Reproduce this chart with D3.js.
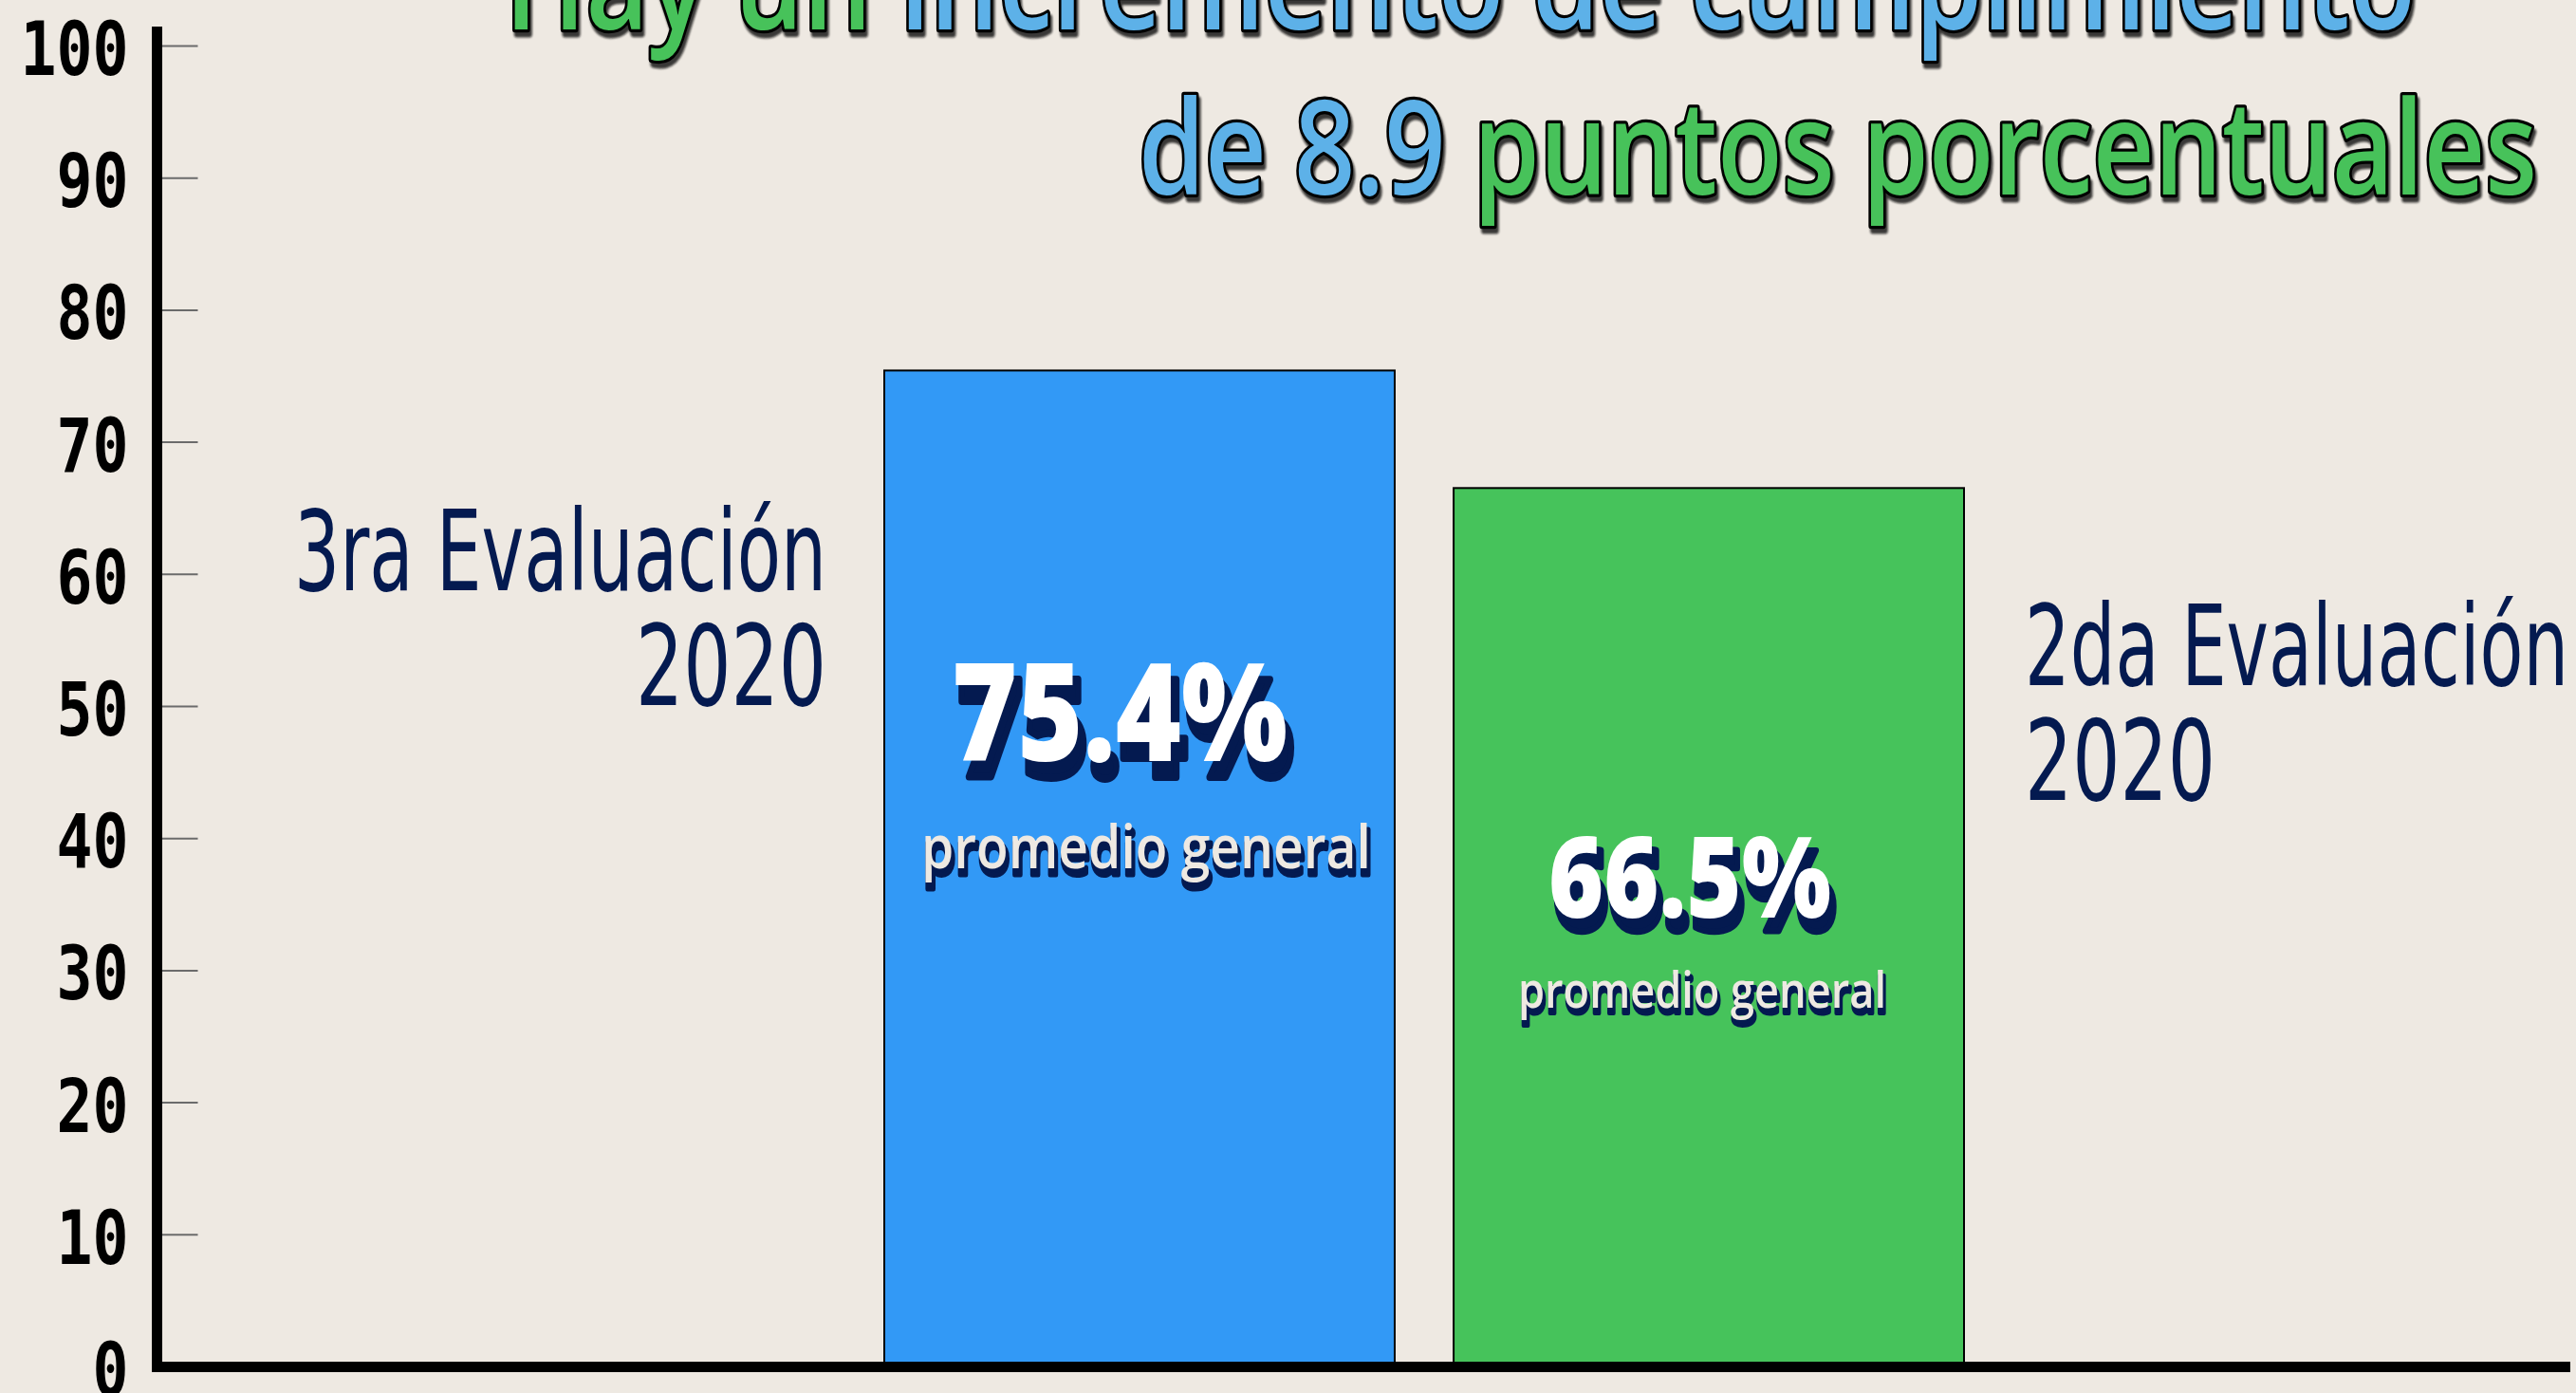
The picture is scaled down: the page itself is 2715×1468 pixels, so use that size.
<!DOCTYPE html>
<html>
<head>
<meta charset="utf-8">
<title>Cumplimiento</title>
<style>
  body { margin: 0; background: #eee9e2; overflow: hidden; }
  svg { display: block; }
  .tick text { font-family: "DejaVu Sans Mono", monospace; font-weight: bold; font-size: 78px; fill: #000; }
  .tick line { stroke: #6b6b6b; stroke-width: 2; }
  .cat { font-family: "Liberation Sans Narrow", "DejaVu Sans Condensed", sans-serif; font-size: 118px; fill: #041a50; }
  .title { font-family: "Open Sans", sans-serif; font-weight: 600; font-size: 138px; }
  .value { font-family: "Open Sans", sans-serif; font-weight: 800; text-anchor: middle; }
  .sub { font-family: "Open Sans", sans-serif; font-weight: 600; text-anchor: middle; }
</style>
</head>
<body>
<div id="chart"></div>
<script src="https://cdnjs.cloudflare.com/ajax/libs/d3/7.8.5/d3.min.js"></script>
<script>
// data
var categories = ["3ra Evaluación 2020", "2da Evaluación 2020"];
var categoryLines = [["3ra Evaluación", "2020"], ["2da Evaluación", "2020"]];
var values = [75.4, 66.5];
var valueLabels = ["75.4%", "66.5%"];
var subLabels = ["promedio general", "promedio general"];
var yTicks = [0, 10, 20, 30, 40, 50, 60, 70, 80, 90, 100];
var titleLine1 = [["Hay un ", "green"], ["incremento de cumplimiento", "blue"]];
var titleLine2 = [["de 8.9 ", "blue"], ["puntos porcentuales", "green"]];

// styles / layout
var width = 2715, height = 1468;
var barColors = ["#3299f6", "#46c35b"];
var titleColors = { green: "#47c25a", blue: "#5db1e8" };
var navy = "#041a50";
var cream = "#eee9e2";

var labelLayout = [
  { dx: -21, base: 802, size: 143, len: 354, subDx: 7, subBase: 915, subSize: 64, subLen: 474 },
  { dx: -20, base: 967, size: 118, len: 298, subDx: -7, subBase: 1062, subSize: 53, subLen: 388 }
];
var catLayout = [
  { anchor: "end", gap: -61, bases: [622, 743], lens: [561, 201] },
  { anchor: "start", gap: 64, bases: [722, 843], lens: [573, 201] }
];

var svg = d3.select("#chart").append("svg")
  .attr("width", width)
  .attr("height", height);

svg.append("rect").attr("width", width).attr("height", height).attr("fill", cream);

var defs = svg.append("defs");
defs.append("filter").attr("id", "soft")
  .append("feGaussianBlur").attr("stdDeviation", 1.2);

var y = d3.scaleLinear().domain([0, 100]).range([1440, 48]);
var x = d3.scaleBand().domain(categories).range([932, 2070]).paddingInner(0.1035);
var axisX = 165.5;

// y axis ticks + labels (digits are narrow in the original)
svg.append("g")
  .attr("transform", "translate(" + axisX + ",0)")
  .call(d3.axisLeft(y).tickValues(yTicks).tickSizeInner(-43).tickSizeOuter(0).tickPadding(30))
  .call(function(g) { g.select(".domain").remove(); })
  .selectAll(".tick text")
  .attr("dy", "0.39em")
  .attr("textLength", function(d) { return String(d).length * 38; })
  .attr("lengthAdjust", "spacingAndGlyphs");

// title
function titleLine(parts, xPos, yPos, anchor, len, dx, dy, shadow) {
  var t = svg.append("text")
    .attr("class", "title")
    .attr("x", xPos + dx)
    .attr("y", yPos + dy)
    .attr("text-anchor", anchor)
    .attr("textLength", len)
    .attr("lengthAdjust", "spacingAndGlyphs")
    .style("paint-order", "stroke")
    .attr("stroke-linejoin", "round");
  if (shadow) {
    t.attr("fill", "#111").attr("stroke", "#111").attr("stroke-width", 7)
      .attr("opacity", 0.8).attr("filter", "url(#soft)");
  } else {
    t.attr("stroke", "#000").attr("stroke-width", 6.5);
  }
  parts.forEach(function(p) {
    var s = t.append("tspan").text(p[0]);
    if (!shadow) s.attr("fill", titleColors[p[1]]);
  });
}
[true, false].forEach(function(sh) {
  var o = sh ? [2, 5] : [0, 0];
  titleLine(titleLine1, 532, 31, "start", 2014, o[0], o[1], sh);
  titleLine(titleLine2, 2674, 205, "end", 1474, o[0], o[1], sh);
});

// category labels
categories.forEach(function(c, i) {
  var L = catLayout[i];
  var xPos = L.anchor === "end" ? x(c) + L.gap : x(c) + x.bandwidth() + L.gap;
  categoryLines[i].forEach(function(line, j) {
    svg.append("text")
      .attr("class", "cat")
      .attr("x", xPos)
      .attr("y", L.bases[j])
      .attr("text-anchor", L.anchor)
      .attr("textLength", L.lens[j])
      .attr("lengthAdjust", "spacingAndGlyphs")
      .text(line);
  });
});

// bars
svg.selectAll("rect.bar")
  .data(values)
  .enter()
  .append("rect")
  .attr("class", "bar")
  .attr("x", function(d, i) { return x(categories[i]); })
  .attr("y", function(d) { return y(d); })
  .attr("width", x.bandwidth())
  .attr("height", function(d) { return y(0) - y(d); })
  .attr("fill", function(d, i) { return barColors[i]; })
  .attr("stroke", "#000")
  .attr("stroke-width", 2);

// value labels with navy shadow
values.forEach(function(v, i) {
  var L = labelLayout[i];
  var cx = x(categories[i]) + x.bandwidth() / 2;
  var k = L.size / 143;

  [true, false].forEach(function(sh) {
    var t = svg.append("text")
      .attr("class", "value")
      .attr("x", cx + L.dx + (sh ? 6 * k : 0))
      .attr("y", L.base + (sh ? 17 * k : 0))
      .attr("font-size", L.size)
      .attr("textLength", L.len)
      .attr("lengthAdjust", "spacingAndGlyphs")
      .attr("fill", sh ? navy : "#fff")
      .text(valueLabels[i]);
    if (sh) t.attr("stroke", navy).attr("stroke-width", 8 * k).attr("stroke-linejoin", "round");
  });

  [true, false].forEach(function(sh) {
    var t = svg.append("text")
      .attr("class", "sub")
      .attr("x", cx + L.subDx + (sh ? 2 * k : 0))
      .attr("y", L.subBase + (sh ? 7 * k : 0))
      .attr("font-size", L.subSize)
      .attr("textLength", L.subLen)
      .attr("lengthAdjust", "spacingAndGlyphs")
      .attr("fill", sh ? navy : cream)
      .text(subLabels[i]);
    if (sh) t.attr("stroke", navy).attr("stroke-width", 5 * k).attr("stroke-linejoin", "round");
  });
});

// axis lines
svg.append("line")
  .attr("x1", axisX).attr("x2", axisX)
  .attr("y1", y(100) - 20).attr("y2", y(0) + 6)
  .attr("stroke", "#000").attr("stroke-width", 11);
svg.append("line")
  .attr("x1", axisX - 5.5).attr("x2", width - 6)
  .attr("y1", y(0) + 0.5).attr("y2", y(0) + 0.5)
  .attr("stroke", "#000").attr("stroke-width", 11);
</script>
</body>
</html>
